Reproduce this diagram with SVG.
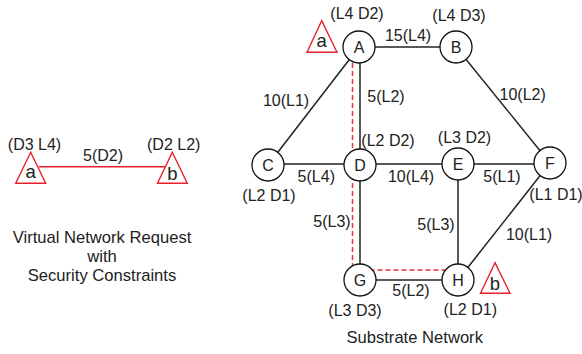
<svg xmlns="http://www.w3.org/2000/svg" width="582" height="354" viewBox="0 0 582 354">
<style>
text{font-family:"Liberation Sans",Arial,sans-serif;font-size:16px;fill:#222;text-anchor:middle}
.t{font-size:16.6px}
.tl{font-size:18.5px}
.e{stroke:#222;stroke-width:1.5;fill:none}
.n{fill:#fff;stroke:#111;stroke-width:1.3}
.tri{fill:#fff;stroke:#e8202a;stroke-width:1.4}
.red{stroke:#e8202a;stroke-width:1.5;fill:none}
.dash{stroke:#f0303a;stroke-width:1.5;stroke-dasharray:5,3;fill:none}
</style>
<rect width="582" height="354" fill="#fff"/>
<g id="virtual-request">
<line class="red" x1="39" y1="166.7" x2="167" y2="166.7"/>
<g id="va"><polygon class="tri" points="30.7,152.3 15.7,183.3 45.7,183.3"/><text class="tl" x="30.7" y="178">a</text></g>
<g id="vb"><polygon class="tri" points="172.3,152.3 157.5,183.3 187.3,183.3"/><text class="tl" x="172.5" y="180">b</text></g>
<text x="34.5" y="149.5">(D3 L4)</text>
<text x="173.7" y="149.5">(D2 L2)</text>
<text x="103" y="160.5">5(D2)</text>
<text class="t" x="102" y="243">Virtual Network Request</text>
<text class="t" x="102" y="262">with</text>
<text class="t" x="102" y="281">Security Constraints</text>
</g>
<g id="connectors">
<line class="e" x1="359" y1="47" x2="456" y2="47"/>
<line class="e" x1="359" y1="47" x2="268" y2="165"/>
<line class="e" x1="360" y1="47" x2="360" y2="280"/>
<line class="e" x1="456" y1="47" x2="550" y2="163"/>
<line class="e" x1="268" y1="164" x2="550" y2="164"/>
<line class="e" x1="458" y1="164" x2="458" y2="280"/>
<line class="e" x1="550" y1="163" x2="458" y2="280"/>
<line class="e" x1="360" y1="280" x2="458" y2="280"/>
<path class="dash" d="M352.5,47 V270 H458"/>
</g>
<g id="A"><circle class="n" cx="359" cy="47" r="16"/><text x="359" y="53">A</text></g>
<g id="B"><circle class="n" cx="456" cy="47" r="16"/><text x="456" y="53">B</text></g>
<g id="C"><circle class="n" cx="268" cy="165" r="16"/><text x="268" y="171">C</text></g>
<g id="D"><circle class="n" cx="360" cy="165" r="16"/><text x="360" y="171">D</text></g>
<g id="E"><circle class="n" cx="458" cy="164" r="16"/><text x="458" y="170">E</text></g>
<g id="F"><circle class="n" cx="550" cy="163" r="16"/><text x="550" y="169">F</text></g>
<g id="G"><circle class="n" cx="360" cy="280" r="16"/><text x="360" y="286">G</text></g>
<g id="H"><circle class="n" cx="458" cy="280" r="16"/><text x="458" y="286">H</text></g>
<g id="sa"><polygon class="tri" points="321.7,20.7 307,52.3 337,52.3"/><text class="tl" x="321.7" y="46.5">a</text></g>
<g id="sb"><polygon class="tri" points="495,262.7 480.5,293.3 510,293.3"/><text class="tl" x="495" y="289.5">b</text></g>
<g id="labels">
<text x="357" y="19">(L4 D2)</text>
<text x="459" y="20.5">(L4 D3)</text>
<text x="408" y="40.5">15(L4)</text>
<text x="286" y="105.5">10(L1)</text>
<text x="386" y="102">5(L2)</text>
<text x="522.7" y="99.5">10(L2)</text>
<text x="388" y="145.5">(L2 D2)</text>
<text x="464.5" y="143">(L3 D2)</text>
<text x="316.3" y="182">5(L4)</text>
<text x="411" y="182">10(L4)</text>
<text x="502" y="182">5(L1)</text>
<text x="556" y="200">(L1 D1)</text>
<text x="269" y="200.5">(L2 D1)</text>
<text x="332" y="227">5(L3)</text>
<text x="436" y="230">5(L3)</text>
<text x="529" y="240">10(L1)</text>
<text x="411" y="296">5(L2)</text>
<text x="355" y="315.5">(L3 D3)</text>
<text x="470.3" y="315">(L2 D1)</text>
<text class="t" x="414.7" y="343">Substrate Network</text>
</g>
</svg>
